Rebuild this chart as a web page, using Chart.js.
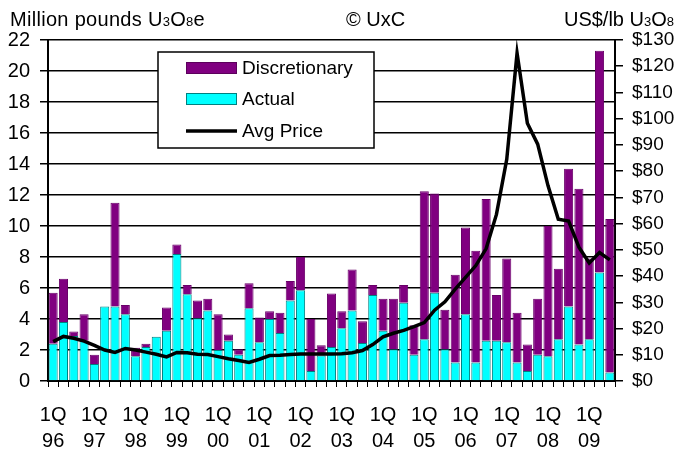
<!DOCTYPE html>
<html>
<head>
<meta charset="utf-8">
<script src="https://cdn.jsdelivr.net/npm/chart.js@4/dist/chart.umd.min.js"></script>
<style>
  body { margin: 0; background: #fff; }
  #wrap { position: relative; width: 681px; height: 454px; }
  .cap { position: absolute; top: 9px; font-family: "Liberation Sans", Arial, sans-serif; font-size: 20px; line-height: 20px; color: #000; white-space: nowrap; }
  .cap small { font-size: 13px; }
</style>
</head>
<body>
<div id="wrap">
  <canvas id="myChart" width="681" height="454"></canvas>
  <div class="cap" style="left:10px;letter-spacing:0.3px">Million pounds U<small>3</small>O<small>8</small>e</div>
  <div class="cap" style="left:346px">© UxC</div>
  <div class="cap" style="right:7px">US$/lb U<small>3</small>O<small>8</small></div>
</div>
<script>
// years shown on the axis, 1Q96 .. 3Q09
const years = ["96", "97", "98", "99", "00", "01", "02", "03", "04", "05", "06", "07", "08", "09"];
const quarterCount = 55;

// total height of each stacked bar (actual + discretionary), million lb
const totalVolume = [5.7, 6.6, 3.2, 4.3, 1.7, 4.8, 11.5, 4.9, 2.15, 2.4, 2.85, 4.75,
  8.8, 6.2, 5.2, 5.3, 4.3, 3.0, 2.05, 6.3, 4.1, 4.5, 4.4, 6.45,
  8.0, 4.0, 2.3, 5.65, 4.5, 7.2, 3.85, 6.2, 5.3, 5.3, 6.2, 3.6,
  12.25, 12.1, 4.6, 6.85, 9.9, 8.4, 11.75, 5.55, 7.9, 4.4, 2.35, 5.3,
  10.0, 7.25, 13.7, 12.4, 7.9, 21.3, 10.45];

// actual (cyan) part
const actualVolume = [2.4, 3.8, 2.9, 2.6, 1.1, 4.8, 4.8, 4.3, 1.6, 2.2, 2.85, 3.25,
  8.2, 5.6, 4.05, 4.55, 2.0, 2.6, 1.7, 4.7, 2.5, 4.0, 3.1, 5.2,
  5.85, 0.65, 1.65, 2.2, 3.4, 4.55, 2.45, 5.55, 3.25, 2.05, 5.05, 1.7,
  2.7, 5.7, 2.05, 1.2, 4.3, 1.2, 2.6, 2.6, 2.5, 1.2, 0.65, 1.7,
  1.6, 2.7, 4.8, 2.35, 2.7, 7.0, 0.55];

// average price, US$/lb U3O8
const avgPrice = [15.0, 17.0, 16.3, 15.2, 13.6, 11.8, 10.9, 12.4, 11.8, 11.0, 10.2, 9.2,
  10.9, 10.8, 10.2, 10.1, 9.3, 8.5, 7.8, 7.1, 8.3, 9.7, 9.8, 10.1,
  10.3, 10.3, 10.3, 10.3, 10.4, 10.8, 11.6, 13.9, 16.8, 18.2, 19.3, 20.7,
  22.3, 27.0, 30.2, 35.0, 39.5, 44.0, 50.5, 63.5, 84.5, 125.0, 98.3, 90.3,
  74.5, 61.7, 61.0, 51.0, 45.0, 49.0, 46.2];

const labels = [];
for (let i = 0; i < quarterCount; i++) {
  labels.push(i % 4 === 0 ? ["1Q", years[i / 4]] : "");
}
const discretionary = totalVolume.map((t, i) => Math.max(0, +(t - actualVolume[i]).toFixed(2)));

const font = "'Liberation Sans', Arial, sans-serif";

const legendBox = {
  id: "legendBox",
  afterDatasetsDraw(chart) {
    const ctx = chart.ctx;
    ctx.save();
    ctx.fillStyle = "#fff";
    ctx.fillRect(158, 52, 216, 96);
    ctx.strokeStyle = "#000";
    ctx.lineWidth = 1.5;
    ctx.strokeRect(158, 52, 216, 96);
    ctx.font = "19px " + font;
    ctx.textBaseline = "middle";
    const items = [
      { text: "Discretionary", y: 68, fill: "#800080", border: "#5c005c" },
      { text: "Actual", y: 99, fill: "#00ffff", border: "#008080" },
      { text: "Avg Price", y: 131, line: true }
    ];
    items.forEach(it => {
      if (it.line) {
        ctx.strokeStyle = "#000";
        ctx.lineWidth = 3.5;
        ctx.beginPath();
        ctx.moveTo(186, it.y);
        ctx.lineTo(237, it.y);
        ctx.stroke();
      } else {
        ctx.fillStyle = it.fill;
        ctx.fillRect(186, it.y - 6, 51, 12);
        ctx.strokeStyle = it.border;
        ctx.lineWidth = 1;
        ctx.strokeRect(186.5, it.y - 5.5, 50, 11);
      }
      ctx.fillStyle = "#000";
      ctx.fillText(it.text, 242, it.y + 1);
    });
    ctx.restore();
  }
};

const config = {
  type: "bar",
  data: {
    labels: labels,
    datasets: [
      {
        label: "Actual",
        data: actualVolume,
        backgroundColor: "#00ffff",
        borderColor: "#008080",
        borderWidth: 1,
        barPercentage: 0.88,
        categoryPercentage: 1,
        yAxisID: "y",
        order: 1
      },
      {
        label: "Discretionary",
        data: discretionary,
        backgroundColor: "#800080",
        borderColor: "#6a006a",
        borderWidth: 1,
        barPercentage: 0.88,
        categoryPercentage: 1,
        yAxisID: "y",
        order: 1
      },
      {
        type: "line",
        label: "Avg Price",
        data: avgPrice,
        borderColor: "#000",
        borderWidth: 3.5,
        pointRadius: 0,
        tension: 0,
        yAxisID: "y1",
        order: 0
      }
    ]
  },
  options: {
    responsive: false,
    animation: false,
    layout: { padding: { top: 40, left: 0, right: 0, bottom: 0 } },
    plugins: { legend: { display: false }, tooltip: { enabled: false } },
    scales: {
      x: {
        stacked: true,
        afterFit(s) { s.height = 73; },
        border: { color: "#000", width: 2 },
        grid: { display: true, drawOnChartArea: false, color: "#000", lineWidth: 1, tickLength: 6 },
        ticks: {
          autoSkip: false,
          maxRotation: 0,
          padding: 15,
          color: "#000",
          font: { family: font, size: 20, lineHeight: 1.3 }
        }
      },
      y: {
        stacked: true,
        position: "left",
        min: 0,
        max: 22,
        afterFit(s) { s.width = 48; },
        border: { color: "#000", width: 2 },
        grid: { color: "#000", lineWidth: 1.5, tickLength: 8 },
        ticks: { stepSize: 2, autoSkip: false, padding: 10, color: "#000", font: { family: font, size: 20 } }
      },
      y1: {
        position: "right",
        min: 0,
        max: 130,
        afterFit(s) { s.width = 66; },
        border: { color: "#000", width: 2 },
        grid: { drawOnChartArea: false, color: "#000", lineWidth: 1.5, tickLength: 8 },
        ticks: {
          stepSize: 10,
          autoSkip: false,
          padding: 9,
          color: "#000",
          font: { family: font, size: 19 },
          callback: v => "$" + v
        }
      }
    }
  },
  plugins: [legendBox]
};

const myChart = new Chart(document.getElementById("myChart"), config);
</script>
</body>
</html>
